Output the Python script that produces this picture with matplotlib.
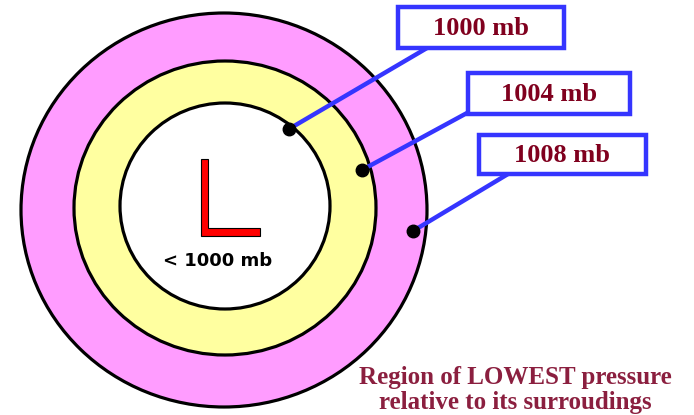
import matplotlib.pyplot as plt
from matplotlib.patches import Ellipse, Rectangle, Polygon

# isobars, innermost first
pressures = [1000, 1004, 1008]
labels = ['%d mb' % p for p in pressures]
center_label = '< 1000 mb'
caption = 'Region of LOWEST pressure\nrelative to its surroudings'

# geometry in pixels (image coords, y down)
ring_w = [210, 302, 406]
ring_h = [206, 294, 394]
ring_cx = [225, 225, 224]
ring_cy = [206, 208, 210]
ring_fill = ['white', '#ffffa0', '#ff9cff']
dots = [(289, 129), (362, 170), (413, 231)]
boxes = [(398, 7, 166, 41), (468, 73, 162, 41), (479, 135, 167, 39)]
anchors = [(427, 48), (467, 113), (508, 174)]

fig = plt.figure(figsize=(6.94, 4.15), dpi=100)
ax = fig.add_axes([0, 0, 1, 1])
ax.set_xlim(0, 694)
ax.set_ylim(415, 0)
ax.axis('off')

# outer ring drawn first
for i in range(len(pressures) - 1, -1, -1):
    ax.add_patch(Ellipse((ring_cx[i], ring_cy[i]), ring_w[i], ring_h[i],
                         facecolor=ring_fill[i], edgecolor='black', lw=2.3))

# the L
ax.add_patch(Polygon([(201, 159), (208, 159), (208, 228), (260, 228),
                      (260, 236), (201, 236)], closed=True,
                     facecolor='#ff0000', edgecolor='black', lw=0.8))
ax.text(218, 261, center_label, ha='center', va='center',
        fontsize=13, fontweight='bold', family='DejaVu Sans', color='black')

# leader lines, dots and label boxes
for lab, (dx, dy), (bx, by, bw, bh), (ax_, ay) in zip(labels, dots, boxes, anchors):
    ax.plot([dx, ax_], [dy, ay], color='#3535ff', lw=3.2, solid_capstyle='butt')
    ax.plot(dx, dy, 'o', color='black', ms=9)
    ax.add_patch(Rectangle((bx, by), bw, bh, facecolor='white',
                           edgecolor='#3535ff', lw=3.2))
    ax.text(bx + bw / 2, by + bh / 2 + 1, lab, ha='center', va='center',
            fontsize=19, fontweight='bold', family='Liberation Serif',
            color='#80001e')

ax.text(515, 390, caption, ha='center', va='center', fontsize=18,
        fontweight='bold', family='Liberation Serif', color='#8b1f3f',
        linespacing=1.15)

fig.savefig('out.png', dpi=100)
